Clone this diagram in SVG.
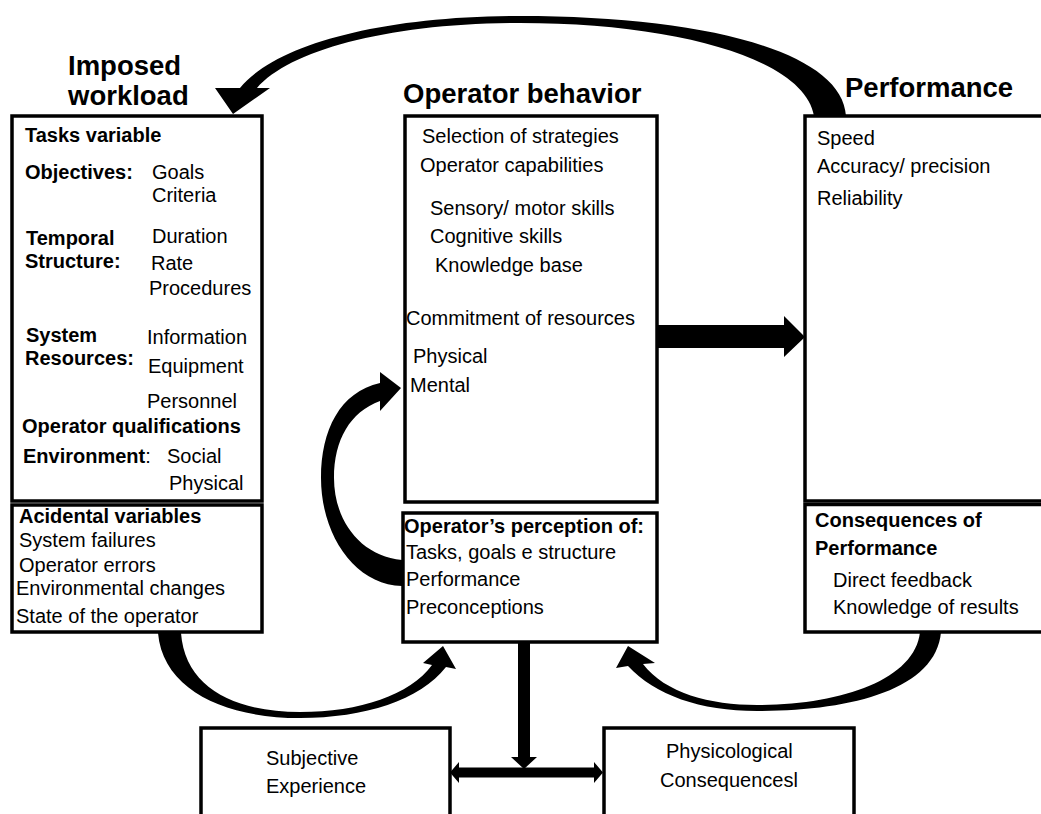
<svg xmlns="http://www.w3.org/2000/svg" width="1041" height="814" viewBox="0 0 1041 814">
<style>
text{font-family:"Liberation Sans",Arial,sans-serif;fill:#000}
.t{font-size:27.5px;font-weight:bold}
.b{font-size:20px;font-weight:bold}
.r{font-size:20px}
.box{fill:#fff;stroke:#000;stroke-width:3.5}
.arr{fill:#000;stroke:none}
</style>
<rect width="1041" height="814" fill="#fff"/>
<g id="titles">
<text class="t" x="68" y="75">Imposed</text>
<text class="t" x="68" y="105">workload</text>
<text class="t" x="403" y="103">Operator behavior</text>
<text class="t" x="845" y="97">Performance</text>
</g>
<g id="imposed-workload">
<rect class="box" x="12" y="116" width="250" height="385"/>
<text class="b" x="25" y="142">Tasks variable</text>
<text class="b" x="25" y="179">Objectives:</text>
<text class="r" x="152" y="179">Goals</text>
<text class="r" x="152" y="202">Criteria</text>
<text class="b" x="26" y="245">Temporal</text>
<text class="r" x="152" y="243">Duration</text>
<text class="b" x="25" y="268">Structure:</text>
<text class="r" x="151" y="270">Rate</text>
<text class="r" x="149" y="295">Procedures</text>
<text class="b" x="26" y="342">System</text>
<text class="r" x="147" y="344">Information</text>
<text class="b" x="25" y="365">Resources:</text>
<text class="r" x="148" y="373">Equipment</text>
<text class="r" x="147" y="408">Personnel</text>
<text class="b" x="22" y="433">Operator qualifications</text>
<text x="23" y="463"><tspan class="b">Environment</tspan><tspan class="r">:</tspan></text>
<text class="r" x="167" y="463">Social</text>
<text class="r" x="169" y="490">Physical</text>
</g>
<g id="accidental-variables">
<rect class="box" x="12" y="505" width="250" height="127"/>
<text class="b" x="19" y="523">Acidental variables</text>
<text class="r" x="19" y="547">System failures</text>
<text class="r" x="19" y="572">Operator errors</text>
<text class="r" x="16" y="595">Environmental changes</text>
<text class="r" x="16" y="623">State of the operator</text>
</g>
<g id="operator-behavior">
<rect class="box" x="405" y="116" width="252" height="386"/>
<text class="r" x="422" y="143">Selection of strategies</text>
<text class="r" x="420" y="172">Operator capabilities</text>
<text class="r" x="430" y="215">Sensory/ motor skills</text>
<text class="r" x="430" y="243">Cognitive skills</text>
<text class="r" x="435" y="272">Knowledge base</text>
<text class="r" x="406" y="325">Commitment of resources</text>
<text class="r" x="413" y="363">Physical</text>
<text class="r" x="410" y="392">Mental</text>
</g>
<g id="operator-perception">
<rect class="box" x="403" y="513" width="254" height="129"/>
<text class="b" x="404" y="533">Operator’s perception of:</text>
<text class="r" x="406" y="559">Tasks, goals e structure</text>
<text class="r" x="406" y="586">Performance</text>
<text class="r" x="406" y="614">Preconceptions</text>
</g>
<g id="performance">
<rect class="box" x="805" y="116" width="245" height="385"/>
<text class="r" x="817" y="145">Speed</text>
<text class="r" x="817" y="173">Accuracy/ precision</text>
<text class="r" x="817" y="205">Reliability</text>
</g>
<g id="consequences">
<rect class="box" x="805" y="504.5" width="245" height="127.5"/>
<text class="b" x="815" y="527">Consequences of</text>
<text class="b" x="815" y="555">Performance</text>
<text class="r" x="833" y="587">Direct feedback</text>
<text class="r" x="833" y="614">Knowledge of results</text>
</g>
<g id="subjective-experience">
<rect class="box" x="201" y="728" width="249" height="100"/>
<text class="r" x="266" y="765">Subjective</text>
<text class="r" x="266" y="793">Experience</text>
</g>
<g id="physiological-consequences">
<rect class="box" x="604" y="728" width="250" height="100"/>
<text class="r" x="666" y="758">Physicological</text>
<text class="r" x="660" y="787">Consequencesl</text>
</g>
<g id="connectors">
<path class="arr" d="M 846,116 C 842,50 700,16 520,16 C 380,16 275,45 240,88 L 215,88 L 233,114 L 270,88 L 257,88 C 290,50 390,23 520,23 C 680,23 805,60 814,116 Z"/>
<path class="arr" d="M 658,325 L 784,325 L 784,316 L 805,337 L 784,357 L 784,348 L 658,348 Z"/>
<path class="arr" d="M 402,560 C 360,556 334,520 334,478 C 334,440 350,412 380,401 L 380,411 L 401,388 L 380,372 L 380,383 C 340,392 321,430 321,478 C 321,535 355,585 402,586 Z"/>
<path class="arr" d="M 158,633 C 163,690 225,718 300,718 C 365,718 420,700 446,667 L 456,669 L 443,646 L 423,663 L 432,665 C 410,695 360,712 300,712 C 235,712 185,688 181,633 Z"/>
<path class="arr" d="M 941,632 C 936,690 850,711 757,711 C 700,711 655,695 628,666 L 616,668 L 628,646 L 655,663 L 643,664 C 665,693 710,705 757,705 C 840,705 915,680 920,632 Z"/>
<path class="arr" d="M 518,643 L 530,643 L 530,757 L 537,757 L 524,769 L 511,757 L 518,757 Z"/>
<path class="arr" d="M 450,772.5 L 459,762 L 459,767.5 L 594,767.5 L 594,762 L 603,772.5 L 594,783 L 594,777.5 L 459,777.5 L 459,783 Z"/>
</g>
</svg>
